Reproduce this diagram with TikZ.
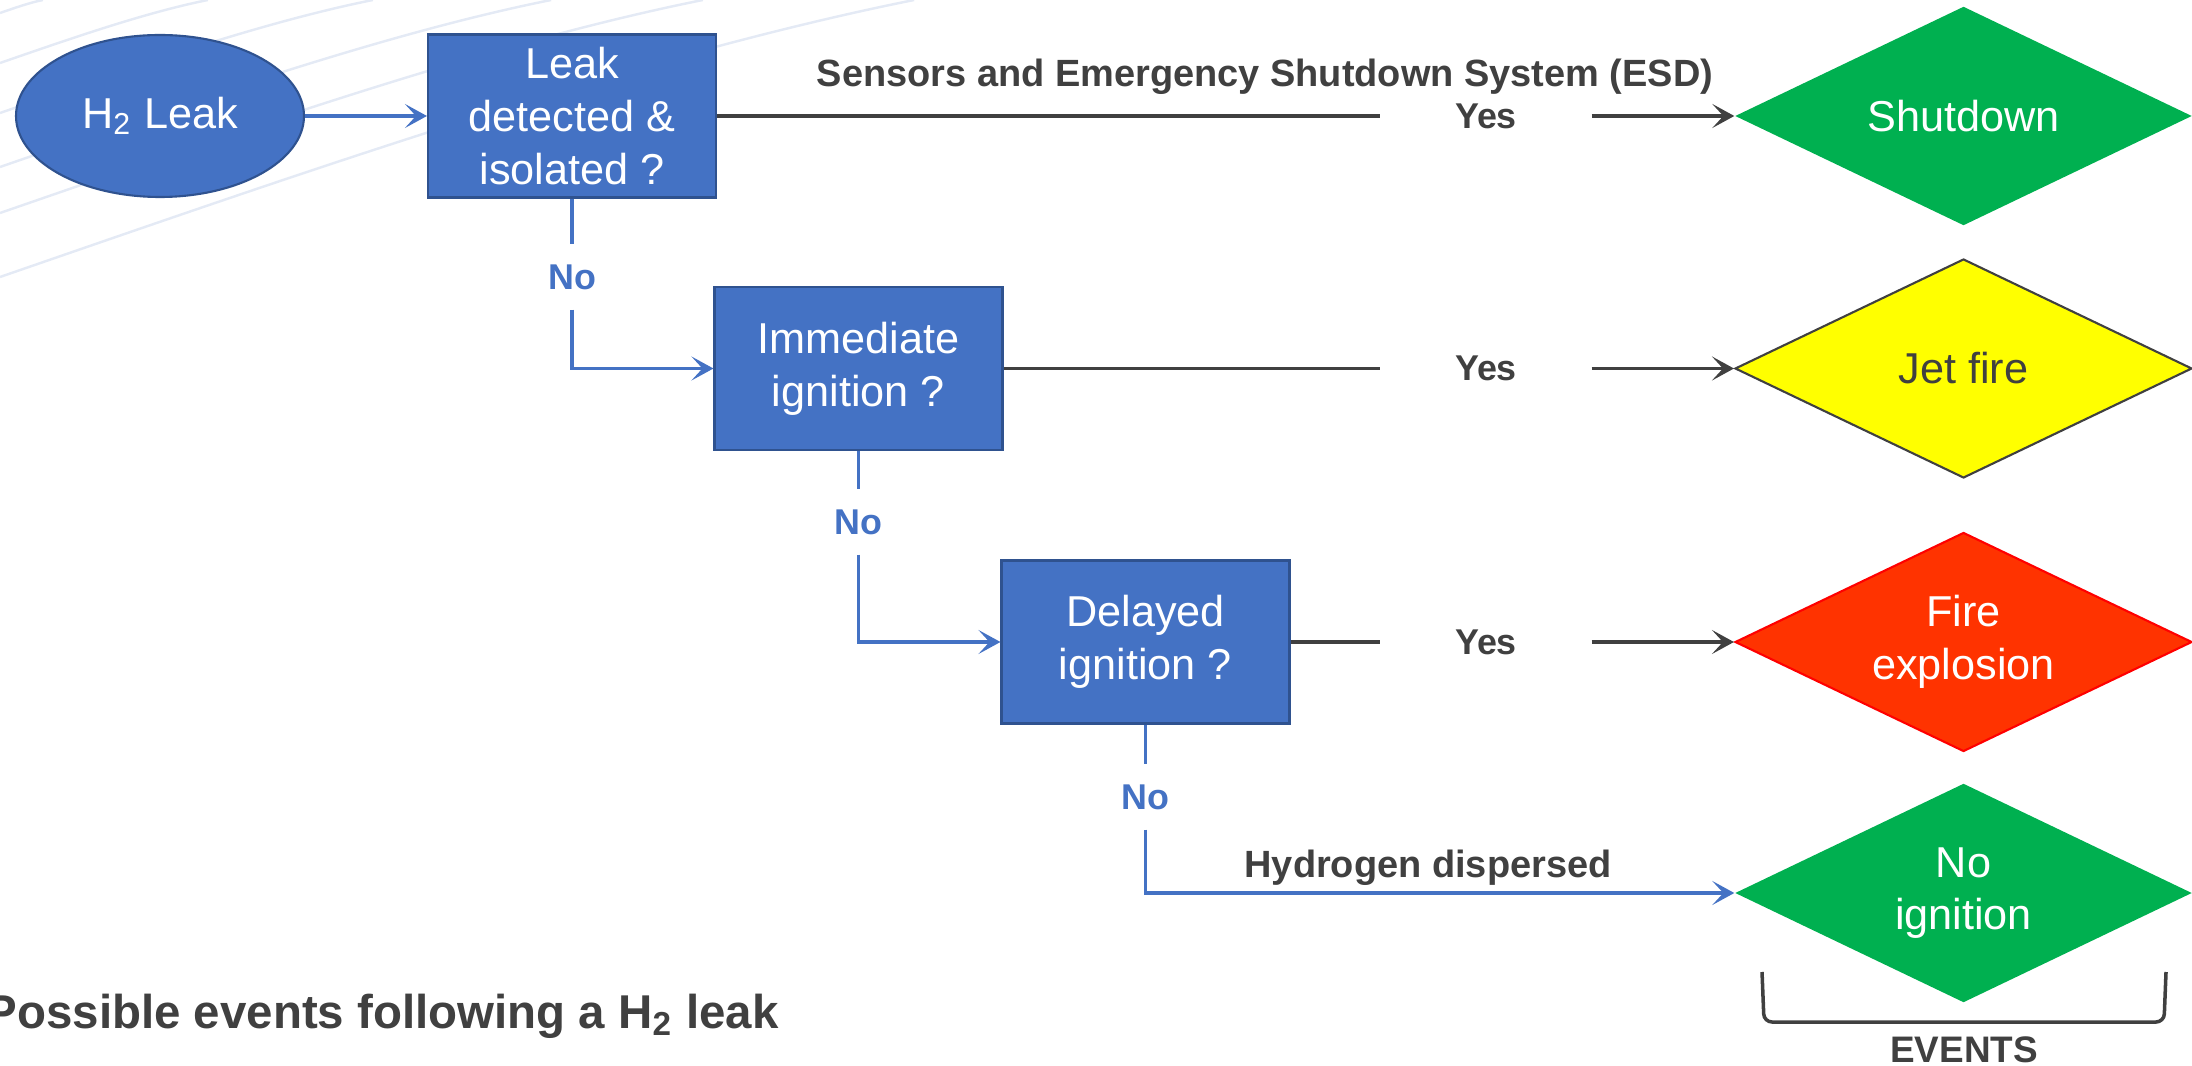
\documentclass[tikz,border=0pt]{standalone}
\usepackage{fontspec}
\setmainfont{Liberation Sans}
\usetikzlibrary{arrows.meta,shapes.geometric}

\definecolor{boxblue}{HTML}{4472C4}
\definecolor{boxedge}{HTML}{2F528F}
\definecolor{inkgray}{HTML}{404040}
\definecolor{okgreen}{HTML}{00B050}
\definecolor{fireyel}{HTML}{FFFF00}
\definecolor{firered}{HTML}{FF3300}
\definecolor{wave}{HTML}{E4EAF5}
\newcommand{\evfont}{\fontsize{12.3}{15}\selectfont}

\begin{document}
\begin{tikzpicture}[
  box/.style={rectangle,draw=boxedge,line width=0.6pt,fill=boxblue,text=white,
    minimum width=2.88cm,minimum height=1.63cm,align=center,font=\evfont},
  ev/.style={diamond,shape aspect=2.1,minimum width=4.57cm,minimum height=2.19cm,
    inner sep=1pt,align=center,font=\evfont,text=white},
  tag/.style={font=\bfseries\fontsize{10.2}{12}\selectfont,inner sep=0pt},
  yeslbl/.style={tag,text=inkgray,minimum width=2.1cm},
  nolbl/.style={tag,text=boxblue,minimum height=0.64cm},
  note/.style={font=\bfseries\fontsize{10.8}{13}\selectfont,text=inkgray,inner sep=0pt},
  kline/.style={draw=inkgray,line width=1pt},
  bline/.style={draw=boxblue,line width=1pt},
  tip/.style={-{Stealth[length=2.2mm,width=2.4mm,inset=1.1mm]}}]
\useasboundingbox (0,0) rectangle (21.92,-10.66);
% faint background sweeps
\foreach \a in {0.13,0.63,1.13,1.67,2.13,2.77}
  \draw[wave,line width=0.7pt] (0,-\a) .. controls ({1.1*\a},{-0.62*\a}) and ({2.3*\a},{-0.2*\a}) .. ({3.3*\a},0);

% questions
\node[ellipse,draw=boxedge,line width=0.6pt,fill=boxblue,text=white,minimum width=2.88cm,
  minimum height=1.62cm,font=\evfont] (leak) at (1.60,-1.16) {H\textsubscript{2} Leak};
\node[box] (detect) at (5.72,-1.16) {Leak\\detected \&\\isolated ?};
\node[box] (immed) at (8.585,-3.685) {Immediate\\ignition ?};
\node[box] (delay) at (11.455,-6.42) {Delayed\\ignition ?};

% events
\node[ev,fill=okgreen] (shut) at (19.635,-1.16) {Shutdown};
\node[ev,fill=fireyel,draw=inkgray,line width=0.6pt,text=inkgray] (jet) at (19.635,-3.685) {Jet fire};
\node[ev,fill=firered,draw=red,line width=0.6pt] (fire) at (19.635,-6.42) {Fire\\explosion};
\node[ev,fill=okgreen] (noign) at (19.635,-8.93) {No\\ignition};

% labels
\node[note,anchor=base] (esd) at (12.65,-0.87) {Sensors and Emergency Shutdown System (ESD)};
\node[yeslbl] (yes1) at (14.86,-1.16) {Yes};
\node[yeslbl] (yes2) at (14.86,-3.685) {Yes};
\node[yeslbl] (yes3) at (14.86,-6.42) {Yes};
\node[nolbl] (no1) at (5.72,-2.77) {No};
\node[nolbl] (no2) at (8.585,-5.22) {No};
\node[nolbl] (no3) at (11.455,-7.97) {No};
\node[note,anchor=base] (disp) at (14.28,-8.77) {Hydrogen dispersed};

% connectors
\draw[bline,tip] (leak.east) -- (detect.west);
\draw[kline] (detect.east) -- (yes1.west);
\draw[kline,tip] (yes1.east) -- (shut.west);
\draw[kline] (immed.east) -- (yes2.west);
\draw[kline,tip] (yes2.east) -- (jet.west);
\draw[kline] (delay.east) -- (yes3.west);
\draw[kline,tip] (yes3.east) -- (fire.west);
\draw[bline] (detect.south) -- (no1.north);
\draw[bline,tip] (no1.south) |- (immed.west);
\draw[bline] (immed.south) -- (no2.north);
\draw[bline,tip] (no2.south) |- (delay.west);
\draw[bline] (delay.south) -- (no3.north);
\draw[bline,tip] (no3.south) |- (noign.west);

% events bracket and caption
\draw[inkgray,line width=1pt,rounded corners=0.08cm] (17.62,-9.72) -- (17.64,-10.22) -- (21.64,-10.22) -- (21.66,-9.72);
\node[tag,text=inkgray,anchor=base,font=\bfseries\fontsize{10.5}{12}\selectfont] (evlbl) at (19.64,-10.62) {EVENTS};
\node[anchor=base west,inner sep=0pt,text=inkgray,font=\bfseries\fontsize{13.5}{16}\selectfont] (caption) at (-0.15,-10.28)
  {Possible events following a H\textsubscript{2} leak};
\end{tikzpicture}
\end{document}
